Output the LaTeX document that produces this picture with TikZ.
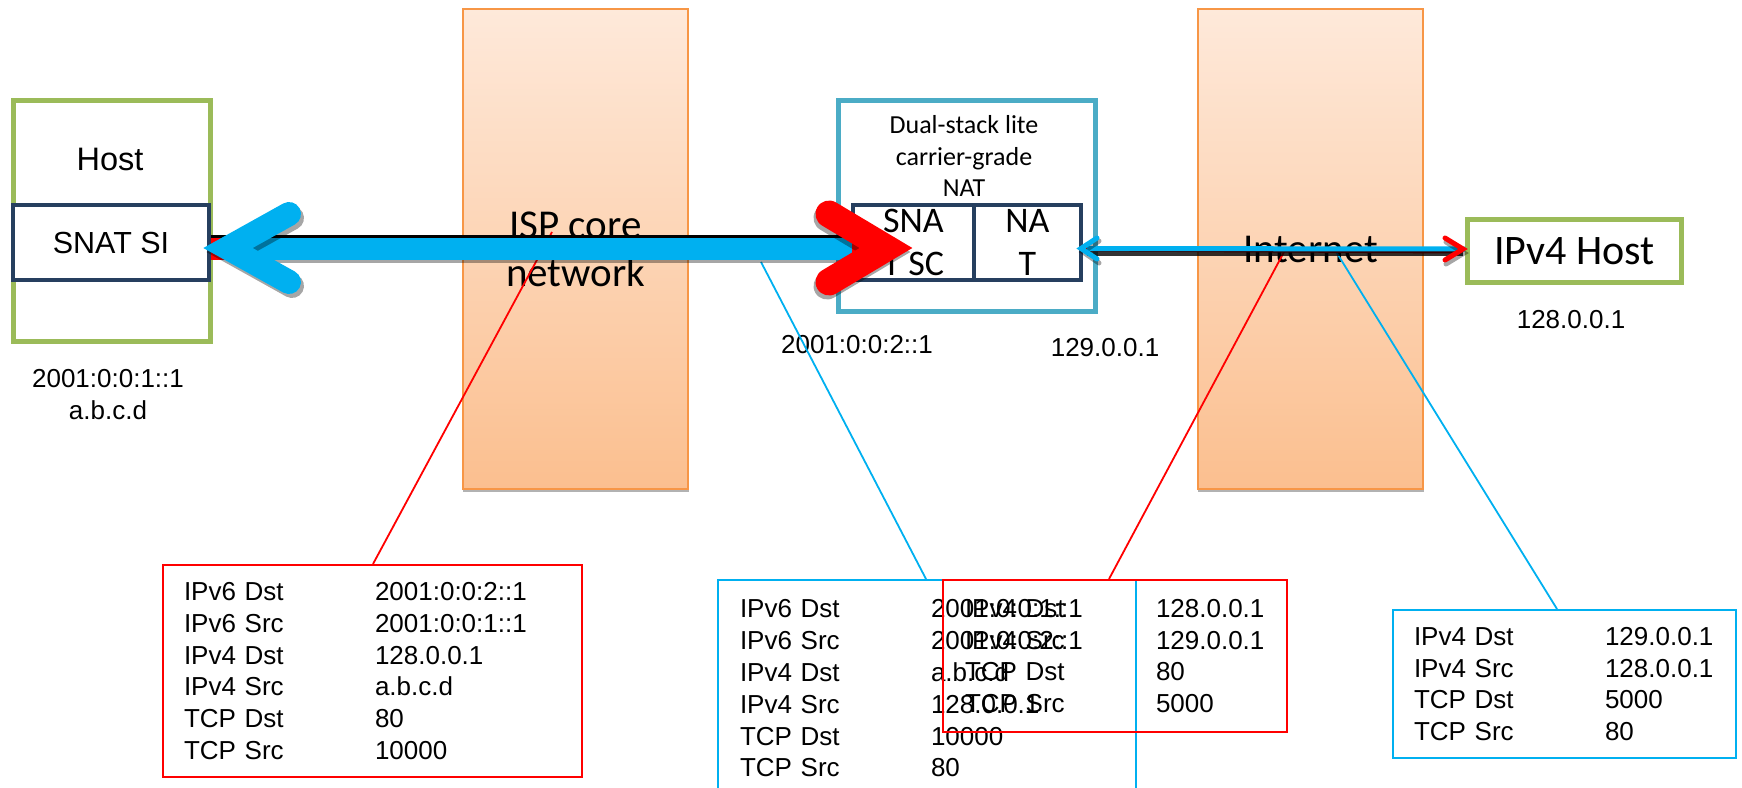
\documentclass[tikz,border=0pt]{standalone}
\usepackage{fontspec}
\setmainfont{Liberation Sans}
\newfontfamily\calibri{Carlito}
\usetikzlibrary{calc}
\definecolor{peachTop}{HTML}{FEE9DA}
\definecolor{peachBot}{HTML}{FBBF8F}
\definecolor{colEdge}{HTML}{F79646}
\definecolor{hostGreen}{HTML}{9BBB59}
\definecolor{navyBox}{HTML}{263F5F}
\definecolor{tealBox}{HTML}{4BACC6}
\definecolor{arrBlue}{HTML}{00B0F0}
\definecolor{arrRed}{HTML}{FF0000}
\newcommand\pktrow[2]{\makebox[191pt][l]{#1}#2}
\begin{document}
\begin{tikzpicture}[x=1pt,y=-1pt,
  col/.style={draw=colEdge, line width=2pt, top color=peachTop, bottom color=peachBot,
    minimum width=225pt, minimum height=480pt, anchor=north west, inner sep=0pt,
    align=center, font=\calibri\fontsize{41}{48}\selectfont},
  colshadow/.style={fill=black, opacity=0.3},
  greenbox/.style={draw=hostGreen, line width=4.5pt, anchor=north west, inner sep=0pt},
  cell/.style={draw=navyBox, line width=4pt, fill=white, minimum height=75pt, anchor=north west,
    inner sep=0pt, align=center, font=\calibri\fontsize{36}{43}\selectfont},
  addr/.style={align=center, font=\fontsize{26}{32}\selectfont, inner sep=0pt},
  tbl/.style={line width=2pt, anchor=north west, inner xsep=21pt, inner ysep=0pt, align=left,
    font=\fontsize{26}{31.8}\selectfont},
  callout/.style={line width=1.8pt},
  chev/.style={line cap=round, miter limit=20},
  shadowline/.style={black, opacity=0.35}
]
\useasboundingbox (0,0) rectangle (1742,787);
\clip (0,0) rectangle (1742,787);

% ---------- network clouds (columns)
\fill[colshadow] (463,11) rectangle (689,492);
\fill[colshadow] (1198,11) rectangle (1424,492);
\node[col] (isp) at (462,8) {ISP core\\network};
\node[col] (inet) at (1197,8) {Internet};

% ---------- host
\node[greenbox, minimum width=197pt, minimum height=241pt] (host) at (11,98) {};
\node[font=\fontsize{32.5}{38}\selectfont] (hostlbl) at (110,159) {Host};
\node[draw=navyBox, line width=4pt, fill=white, minimum width=196pt, minimum height=75pt,
  anchor=north west, inner sep=0pt, font=\fontsize{30.5}{36}\selectfont] (snat) at (11,203) {SNAT SI};
\node[addr] (haddr) at (108,395) {2001:0:0:1::1\\a.b.c.d};

% ---------- carrier grade NAT
\node[draw=tealBox, line width=5pt, minimum width=257pt, minimum height=211pt,
  anchor=north west, inner sep=0pt] (cgn) at (836,98) {};
\node[align=center, font=\calibri\fontsize{26}{31.5}\selectfont] (cgnlbl) at (964,156)
  {Dual-stack lite\\carrier-grade\\NAT};
\node[cell, minimum width=121pt] (sna) at (851,203) {SNA\\T SC};
\node[cell, minimum width=107pt] (nat) at (972,203) {NA\\T};
\node[addr] (a6) at (857,345) {2001:0:0:2::1};
\node[addr] (a4) at (1105,348) {129.0.0.1};

% ---------- IPv4 host
\node[greenbox, minimum width=214pt, minimum height=63pt,
  font=\calibri\fontsize{42}{48}\selectfont] (v4host) at (1465,217) {IPv4 Host};
\node[addr] (v4addr) at (1571,320) {128.0.0.1};

% ---------- packet tables
\node[tbl, draw=arrRed, text width=377pt, minimum height=212pt] (t1) at (162,564)
  {\pktrow{IPv6 Dst}{2001:0:0:2::1}\\\pktrow{IPv6 Src}{2001:0:0:1::1}\\\pktrow{IPv4 Dst}{128.0.0.1}\\
   \pktrow{IPv4 Src}{a.b.c.d}\\\pktrow{TCP Dst}{80}\\\pktrow{TCP Src}{10000}};
\node[tbl, draw=arrBlue, inner xsep=22pt, text width=374pt, minimum height=217pt] (t2) at (717,579)
  {\pktrow{IPv6 Dst}{2001:0:0:1::1}\\\pktrow{IPv6 Src}{2001:0:0:2::1}\\\pktrow{IPv4 Dst}{a.b.c.d}\\
   \pktrow{IPv4 Src}{128.0.0.1}\\\pktrow{TCP Dst}{10000}\\\pktrow{TCP Src}{80}};
\node[tbl, draw=arrRed, inner xsep=22pt, text width=300pt, minimum height=152pt] (t3) at (942,579)
  {\pktrow{IPv4 Dst}{128.0.0.1}\\\pktrow{IPv4 Src}{129.0.0.1}\\\pktrow{TCP Dst}{80}\\\pktrow{TCP Src}{5000}};
\node[tbl, draw=arrBlue, text width=301pt, minimum height=148pt] (t4) at (1392,609)
  {\pktrow{IPv4 Dst}{129.0.0.1}\\\pktrow{IPv4 Src}{128.0.0.1}\\\pktrow{TCP Dst}{5000}\\\pktrow{TCP Src}{80}};

% ---------- callout lines
\coordinate (c1) at (552,232);
\coordinate (c2) at (761,262);
\coordinate (c3) at (1284,252);
\coordinate (c4) at (1335,250);
\draw[callout, arrRed] ($(t1.north west)+(211,0)$) -- (c1);
\draw[callout, arrBlue] ($(t2.north west)+(209,0)$) -- (c2);
\draw[callout, arrRed] ($(t3.north west)+(167,0)$) -- (c3);
\draw[callout, arrBlue] ($(t4.north west)+(165,0)$) -- (c4);

% ---------- big tunnel arrows (IPv6 side)
\coordinate (L) at (snat.east |- 0,249);
\coordinate (R) at (sna.west |- 0,249);
\draw[shadowline, line width=22pt] ($(L)+(20,3)$) -- ($(R)+(2,3)$);
\draw[arrRed, line width=22pt] (L) -- ($(R)+(35,0)$);
\draw[black, line width=3.5pt] ($(L)+(0,-12.5)$) -- ($(R)+(1,-12.5)$);
\draw[arrBlue, line width=22pt] ($(L)+(21,0)$) -- ($(R)+(1,0)$);
% blue chevron (towards host)
\draw[chev, shadowline, line width=24pt] (292,218) -- (231,252) -- (292,286);
\draw[chev, arrBlue, line width=24pt] (289,214) -- (228,248) -- (289,282);
% red chevron (towards CGN)
\draw[chev, shadowline, line width=27pt] (827,218) -- (884,252) -- (827,286);
\draw[chev, arrRed, line width=27pt] (829,214) -- (886,248) -- (829,282);

% ---------- thin arrows (IPv4 side)
\coordinate (N) at (nat.east |- 0,249);
\coordinate (H) at (v4host.west |- 0,249);
\draw[arrRed, line width=5pt] (N) -- ($(H)+(-4,2)$);
\draw[black, opacity=0.8, line width=5pt] ($(N)+(4,4.5)$) -- ($(H)+(-2,4.5)$);
\draw[arrBlue, line width=5pt] ($(N)+(4,-0.5)$) -- (H);
\draw[chev, shadowline, line width=5pt] (1446,242) -- (1464,253) -- (1446,264);
\draw[chev, arrRed, line width=5pt] (1445,238) -- (1463,249) -- (1445,260);
\draw[chev, shadowline, line width=5pt] (1099,241) -- (1083,252) -- (1099,263);
\draw[chev, arrBlue, line width=5pt] (1097,238) -- (1081,248.5) -- (1097,259);
\end{tikzpicture}
\end{document}
